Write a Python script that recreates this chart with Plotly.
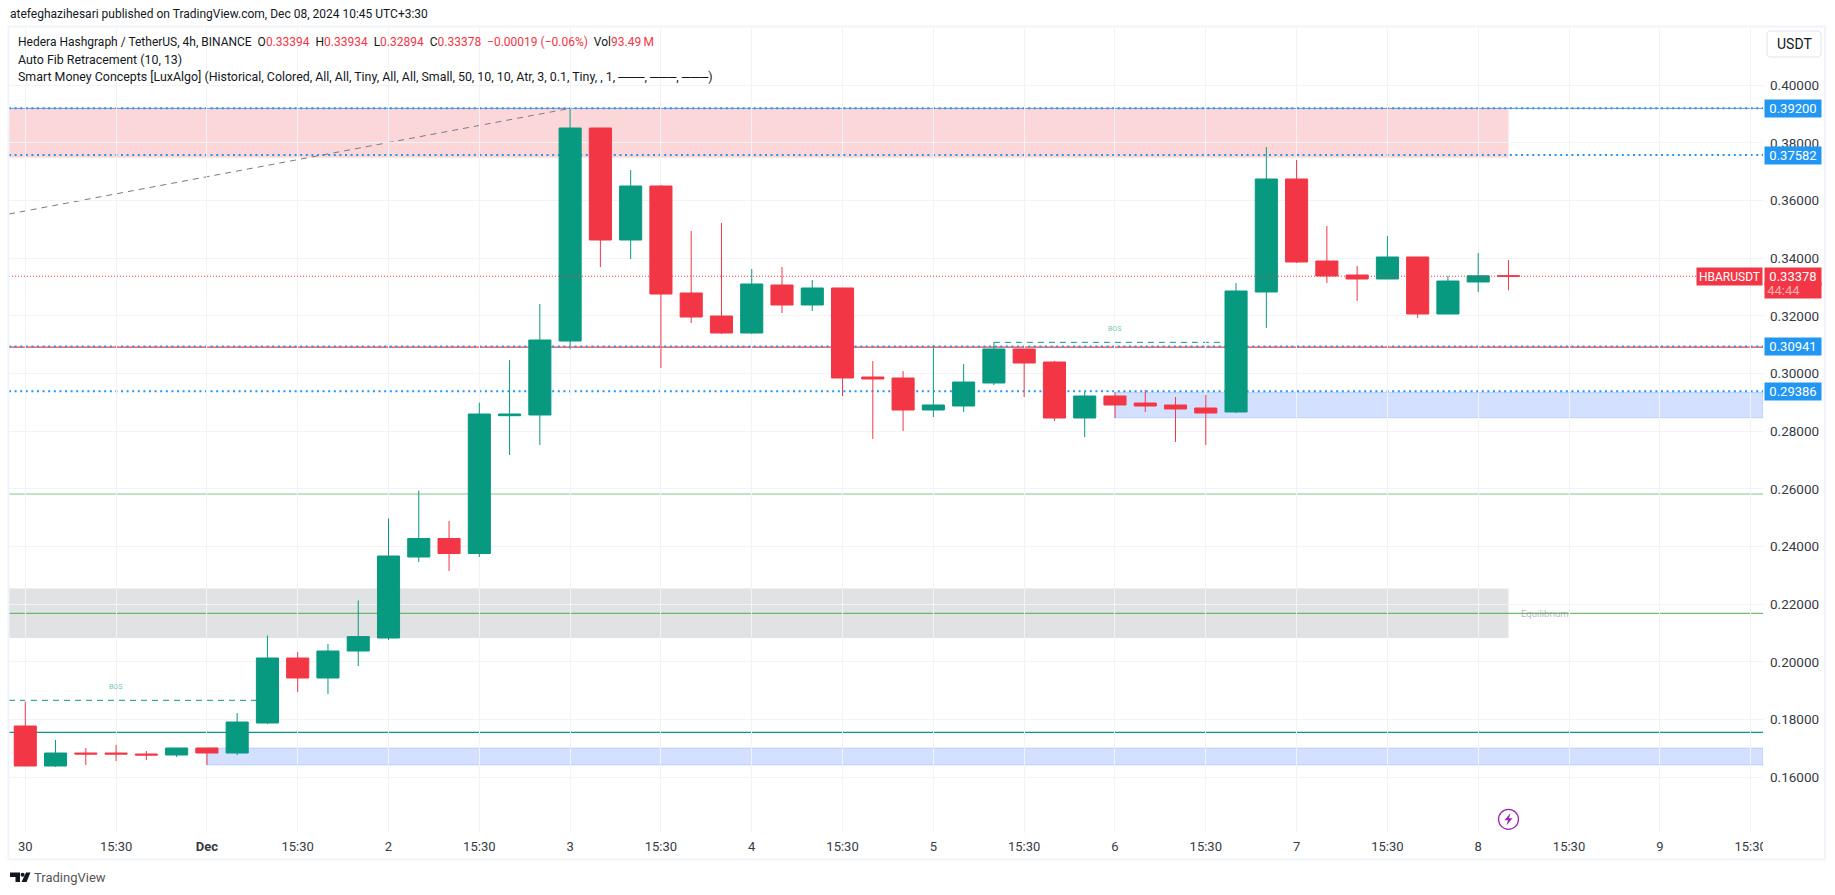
import pandas as pd
import plotly.graph_objects as go

# -------- candles (4h bars from Nov 30 03:30) --------
OPEN = [.17779, .16392, .16842, .16842, .16808, .16773, .17016, .16842, .17883, .20137,
        .19444, .20380, .20831, .23640, .24282, .23761, .28541, .28565, .31131, .38519,
        .34634, .36507, .32796, .31998, .31409, .33074, .32380, .32970, .29883, .29848,
        .28738, .28877, .29675, .30854, .30403, .28461, .29224, .28981, .28912, .28808,
        .28669, .32831, .36750, .33906, .33420, .33282, .34045, .32068, .33178, .33394]
HIGH = [.18622, .17293, .17016, .17120, .16912, .17016, .17016, .18230, .20918, .20345,
        .20623, .22135, .24975, .25946, .24889, .28995, .30472, .32415, .39200, .38519,
        .37062, .36542, .34946, .35224, .33629, .33698, .33247, .32970, .30438, .30091,
        .30993, .30334, .31086, .30854, .30438, .29363, .29363, .29432, .29189, .29259,
        .33143, .37860, .37409, .35120, .33733, .34773, .34045, .33386, .34183, .33934]
LOW = [.16392, .16357, .16426, .16565, .16600, .16704, .16426, .16773, .17848, .18958,
       .18889, .19860, .20762, .23467, .23155, .23640, .27178, .27525, .30854, .33698,
       .33975, .30195, .31756, .31374, .31374, .32103, .32172, .29224, .27733, .28010,
       .28496, .28669, .29605, .29189, .28357, .27802, .28461, .28669, .27629, .27525,
       .28634, .31582, .33837, .33143, .32519, .33282, .31929, .32068, .32831, .32894]
CLOSE = [.16392, .16842, .16808, .16808, .16773, .17016, .16842, .17918, .20137, .19444,
         .20380, .20879, .23675, .24282, .23761, .28600, .28600, .31166, .38519, .34634,
         .36507, .32761, .31964, .31409, .33108, .32380, .32970, .29848, .29814, .28738,
         .28912, .29709, .30854, .30368, .28461, .29224, .28912, .28877, .28773, .28634,
         .32866, .36750, .33871, .33386, .33282, .34045, .32068, .33212, .33394, .33378]
TIMES = pd.date_range("2024-11-30 03:30", periods=len(OPEN), freq="4h").strftime("%Y-%m-%d %H:%M").tolist()

# -------- axes --------
X_RANGE = ["2024-11-30 01:21", "2024-12-09 17:08"]
Y_RANGE = [.14103, .41987]
X_TICKS = pd.date_range("2024-11-30 03:30", periods=20, freq="12h").strftime("%Y-%m-%d %H:%M").tolist()
X_LABELS = ["30", "15:30", "<b>Dec</b>", "15:30", "2", "15:30", "3", "15:30", "4", "15:30",
            "5", "15:30", "6", "15:30", "7", "15:30", "8", "15:30", "9", "15:30"]
Y_TICKS = [.16, .18, .20, .22, .24, .26, .28, .30, .32, .34, .36, .38, .40]

# -------- levels and zones --------
FIB_LEVELS = [.39200, .37582, .30941, .29386]
LAST_PRICE = .33378
PINK_ZONE = [.37489, .39200]
GREY_ZONE = [.20831, .22544]
BLUE_ZONE_LOW = [.16426, .17016]
BLUE_ZONE_HIGH = [.28471, .29352]
LIGHT_GREEN_LEVEL = .25825
EQUILIBRIUM_LEVEL = .21688
TEAL_LEVEL = .17561
RED_LEVEL = .30916
FIB_TREND = [.35536, .39200]
BOS_LOW = .18670
BOS_HIGH = .31086

GREEN = "#089981"
RED = "#F23645"
BLUE = "#2196F3"
GRID = "#F1F3F6"
TEXT = "#131722"
FONT = "Roboto"

PLOT_L, PLOT_R, PLOT_T, PLOT_B = 9, 1763, 28, 832


def px_x(v):
    return (v - PLOT_L) / (PLOT_R - PLOT_L)


def px_y(v):
    return (PLOT_B - v) / (PLOT_B - PLOT_T)


def polygon(points):
    return "M" + " L".join(f"{px_x(x):.5f},{px_y(y):.5f}" for x, y in points) + " Z"


def rounded(x0, y0, x1, y1, r):
    pts = [("M", x0 + r, y0), ("L", x1 - r, y0), ("Q", x1, y0, x1, y0 + r), ("L", x1, y1 - r),
           ("Q", x1, y1, x1 - r, y1), ("L", x0 + r, y1), ("Q", x0, y1, x0, y1 - r),
           ("L", x0, y0 + r), ("Q", x0, y0, x0 + r, y0)]
    out = []
    for p in pts:
        coords = [f"{px_x(p[i]):.5f},{px_y(p[i + 1]):.5f}" for i in range(1, len(p), 2)]
        out.append(p[0] + " ".join(coords))
    return " ".join(out) + " Z"


fig = go.Figure()

fig.add_trace(
    go.Candlestick(
        x=TIMES,
        open=OPEN,
        high=HIGH,
        low=LOW,
        close=CLOSE,
        increasing=dict(line=dict(color=GREEN, width=1), fillcolor=GREEN),
        decreasing=dict(line=dict(color=RED, width=1), fillcolor=RED),
        whiskerwidth=0,
        showlegend=False,
    )
)

# zones sit under the candles
zone_left, zone_right, last_bar = X_RANGE[0], X_RANGE[1], TIMES[-1]
fig.add_shape(type="rect", x0=zone_left, x1=last_bar, y0=PINK_ZONE[0], y1=PINK_ZONE[1],
              fillcolor="rgba(242,54,69,0.2)", line_width=0, layer="below")
fig.add_shape(type="rect", x0=zone_left, x1=last_bar, y0=GREY_ZONE[0], y1=GREY_ZONE[1],
              fillcolor="rgba(120,123,134,0.22)", line_width=0, layer="below")
fig.add_shape(type="rect", x0=TIMES[6], x1=zone_right, y0=BLUE_ZONE_LOW[0], y1=BLUE_ZONE_LOW[1],
              fillcolor="rgba(41,98,255,0.2)", line=dict(color="rgba(41,98,255,0.2)", width=1), layer="below")
fig.add_shape(type="rect", x0=TIMES[36], x1=zone_right, y0=BLUE_ZONE_HIGH[0], y1=BLUE_ZONE_HIGH[1],
              fillcolor="rgba(41,98,255,0.2)", line=dict(color="rgba(41,98,255,0.2)", width=1), layer="below")

# horizontal levels
fig.add_shape(type="line", x0=zone_left, x1=zone_right, y0=LIGHT_GREEN_LEVEL, y1=LIGHT_GREEN_LEVEL,
              line=dict(color="#81C784", width=1), layer="below")
fig.add_shape(type="line", x0=zone_left, x1=zone_right, y0=EQUILIBRIUM_LEVEL, y1=EQUILIBRIUM_LEVEL,
              line=dict(color="#4CAF50", width=1), layer="below")
fig.add_shape(type="line", x0=zone_left, x1=zone_right, y0=TEAL_LEVEL, y1=TEAL_LEVEL,
              line=dict(color=GREEN, width=1.3), layer="below")
fig.add_shape(type="line", x0=zone_left, x1=zone_right, y0=RED_LEVEL, y1=RED_LEVEL,
              line=dict(color="#FF3B3B", width=1.3), layer="below")
fig.add_shape(type="line", x0=zone_left, x1=zone_right, y0=FIB_LEVELS[0], y1=FIB_LEVELS[0],
              line=dict(color="#7B93C4", width=1), layer="below")
for level in FIB_LEVELS:
    fig.add_shape(type="line", x0=zone_left, x1=zone_right, y0=level, y1=level,
                  line=dict(color=BLUE, width=2, dash="2px,3.6px"), layer="below")

# fib trend line and BOS dashes
fig.add_shape(type="line", x0=zone_left, x1=TIMES[18], y0=FIB_TREND[0], y1=FIB_TREND[1],
              line=dict(color="#787B86", width=1, dash="6px,5px"), layer="below")
fig.add_shape(type="line", x0=zone_left, x1=TIMES[8], y0=BOS_LOW, y1=BOS_LOW,
              line=dict(color=GREEN, width=1, dash="6px,5px"), layer="below")
fig.add_shape(type="line", x0=TIMES[32], x1=TIMES[40], y0=BOS_HIGH, y1=BOS_HIGH,
              line=dict(color=GREEN, width=1, dash="6px,5px"), layer="below")

# last price dotted line goes over the candles
fig.add_shape(type="line", x0=zone_left, x1=zone_right, y0=LAST_PRICE, y1=LAST_PRICE,
              line=dict(color=RED, width=1, dash="1px,2px"), layer="above")

# mask the cut off last tick label, then the widget frame
fig.add_shape(type="rect", xref="paper", yref="paper", x0=px_x(1763), x1=px_x(1785), y0=px_y(858), y1=px_y(835),
              fillcolor="white", line_width=0)
fig.add_shape(type="rect", xref="paper", yref="paper", x0=px_x(8.5), x1=px_x(1825), y0=px_y(859.5), y1=px_y(26.5),
              line=dict(color="#F0F3FA", width=2))
fig.add_shape(type="path", xref="paper", yref="paper", path=rounded(1767, 31, 1821, 57, 4),
              fillcolor="white", line=dict(color="#E0E3EB", width=1))

# TradingView logo
logo_color = "#131722"
fig.add_shape(type="path", xref="paper", yref="paper", line_width=0, fillcolor=logo_color,
              path=polygon([(10, 872.5), (20, 872.5), (20, 882), (15.5, 882), (15.5, 877), (10, 877)]))
fig.add_shape(type="circle", xref="paper", yref="paper", line_width=0, fillcolor=logo_color,
              x0=px_x(20.6), x1=px_x(24.6), y0=px_y(876.7), y1=px_y(872.7))
fig.add_shape(type="path", xref="paper", yref="paper", line_width=0, fillcolor=logo_color,
              path=polygon([(26, 872.5), (30.5, 872.5), (26.5, 882), (21.5, 882)]))

# purple lightning marker
fig.add_shape(type="circle", xref="paper", yref="paper", line=dict(color="#9C27B0", width=1.3),
              x0=px_x(1498.5), x1=px_x(1518.5), y0=px_y(829.3), y1=px_y(809.3))
fig.add_shape(type="path", xref="paper", yref="paper", line_width=0, fillcolor="#9C27B0",
              path=polygon([(1510.5, 813), (1504.5, 820.3), (1508, 820.3), (1506.5, 825.5), (1512.5, 818.3), (1509, 818.3)]))

annotations = []


def add_text(text, x, y, size=13, color=TEXT, xanchor="left", **kw):
    annotations.append(dict(text=text, x=px_x(x), y=px_y(y), xref="paper", yref="paper", showarrow=False,
                            xanchor=xanchor, yanchor="middle", font=dict(family=FONT, size=size, color=color), **kw))


def price_tag(level, text, color=BLUE, yshift=0, font_color="white", height=17):
    annotations.append(dict(text=text, x=px_x(1764), y=level, xref="paper", yref="y", showarrow=False,
                            xanchor="left", yanchor="middle", width=56, height=height, yshift=yshift, bgcolor=color,
                            borderpad=0, align="center", font=dict(family=FONT, size=13, color=font_color)))


def red(t):
    return f"<span style='color:{RED}'>{t}</span>"


add_text("atefeghazihesari published on TradingView.com, Dec 08, 2024 10:45 UTC+3:30", 7.5, 14.5, size=12)
nb = "\u00a0"
add_text(
    f"Hedera Hashgraph / TetherUS, 4h, BINANCE{nb}{nb}O{red('0.33394')}{nb}{nb}H{red('0.33934')}{nb}{nb}"
    f"L{red('0.32894')}{nb}{nb}C{red('0.33378')}{nb}{nb}{red('−0.00019 (−0.06%)')}{nb}{nb}Vol{red('93.49' + chr(0x2009) + 'M')}",
    16, 42.5, size=12,
)
add_text("Auto Fib Retracement (10, 13)", 16, 59.5, size=12.4)
add_text("Smart Money Concepts [LuxAlgo] (Historical, Colored, All, All, Tiny, All, All, Small, 50, 10, 10, "
         "Atr, 3, 0.1, Tiny, , 1, ───, ───, ───)", 16, 76.5, size=12.4)
add_text("USDT", 1794, 44, size=14, xanchor="center")
add_text("TradingView", 32, 877.5, size=13, color="#555555")

add_text("BOS", 115.6, 687, size=7, color="rgba(8,153,129,0.6)", xanchor="center")
add_text("BOS", 1114.7, 329.3, size=7, color="rgba(8,153,129,0.6)", xanchor="center")
add_text("Equilibrium", 1519, 613.7, size=9.6, color="rgba(120,123,134,0.55)")

for level, label in zip(FIB_LEVELS, ["0.39200", "0.37582", "0.30941", "0.29386"]):
    price_tag(level, label)
price_tag(LAST_PRICE, "0.33378", color=RED)
price_tag(LAST_PRICE, "44:44" + nb * 6, color=RED, yshift=-14, font_color="rgba(255,255,255,0.6)", height=15)
annotations.append(dict(text="HBARUSDT", x=px_x(1763), y=LAST_PRICE, xref="paper", yref="y", showarrow=False,
                        xanchor="right", yanchor="middle", width=65, height=17, bgcolor=RED, borderpad=0,
                        font=dict(family=FONT, size=12, color="white")))

fig.update_xaxes(
    type="date",
    range=X_RANGE,
    rangeslider_visible=False,
    tickmode="array",
    tickvals=X_TICKS,
    ticktext=X_LABELS,
    tickangle=0,
    showgrid=True,
    gridcolor=GRID,
    gridwidth=1,
    zeroline=False,
    showline=False,
    ticks="",
    ticklabelstandoff=5,
    tickfont=dict(family=FONT, size=13, color="#363A45"),
)
fig.update_yaxes(
    range=Y_RANGE,
    side="right",
    tickmode="array",
    tickvals=Y_TICKS,
    tickformat=".5f",
    showgrid=True,
    gridcolor=GRID,
    gridwidth=1,
    zeroline=False,
    showline=False,
    ticks="",
    ticklabelstandoff=6,
    tickfont=dict(family=FONT, size=13.5, color="#363A45"),
)

fig.update_layout(
    width=1835,
    height=895,
    margin=dict(l=PLOT_L, r=1835 - PLOT_R, t=PLOT_T, b=895 - PLOT_B, autoexpand=False),
    paper_bgcolor="white",
    plot_bgcolor="white",
    boxgap=0.27,
    boxgroupgap=0,
    showlegend=False,
    annotations=annotations,
    font=dict(family=FONT, size=13, color=TEXT),
)

fig.write_html("out.html", config={"displayModeBar": False}, post_script="document.body.style.margin='0';")
